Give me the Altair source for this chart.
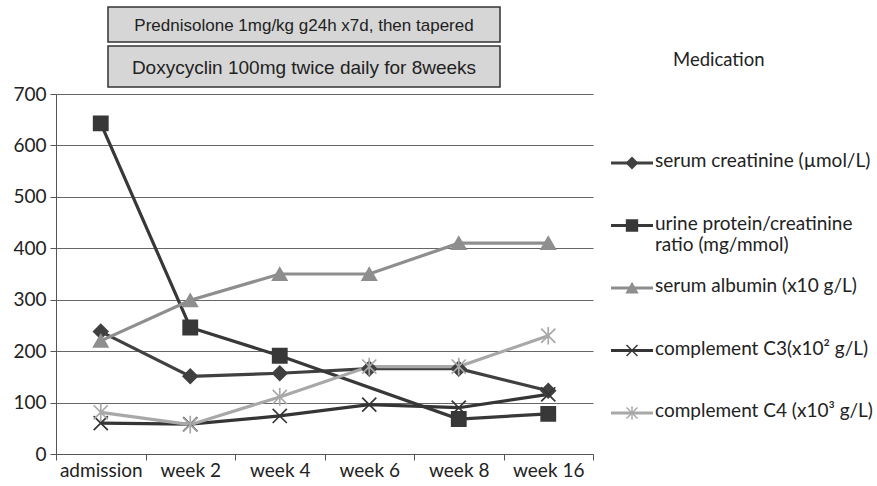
import altair as alt
import pandas as pd

categories = ["admission", "week 2", "week 4", "week 6", "week 8", "week 16"]
series_names = [
    "serum creatinine (µmol/L)",
    "urine protein/creatinine ratio (mg/mmol)",
    "serum albumin (x10 g/L)",
    "complement C3(x10² g/L)",
    "complement C4 (x10³ g/L)",
]
legend_labels = [
    "serum creatinine (µmol/L)",
    "urine protein/creatinine\nratio (mg/mmol)",
    "serum albumin (x10 g/L)",
    "complement C3(x10² g/L)",
    "complement C4 (x10³ g/L)",
]
creatinine = [238, 151, 157, 166, 166, 123]
upcr = [643, 246, 191, None, 68, 78]
albumin = [220, 299, 350, 350, 410, 410]
c3 = [60, 58, 74, 96, 90, 116]
c4 = [81, 57, 111, 170, 170, 230]
box_texts = ["Prednisolone 1mg/kg g24h x7d, then tapered",
             "Doxycyclin 100mg twice daily for 8weeks"]
side_title = "Medication"

colors = ["#404040", "#383838", "#8e8e8e", "#353535", "#a8a8a8"]
X_PATH = "M-1,-1L1,1M-1,1L1,-1"
AST_PATH = "M-1,-1L1,1M-1,1L1,-1M0,-1.25L0,1.25"
shapes = ["diamond", "square", "triangle-up", X_PATH, AST_PATH]

rows = []
for name, vals in zip(series_names, [creatinine, upcr, albumin, c3, c4]):
    for cat, v in zip(categories, vals):
        rows.append({"series": name, "cat": cat, "value": v})
df = pd.DataFrame(rows).dropna()

leg = pd.DataFrame({"series": series_names, "label": legend_labels,
                    "idx": list(range(len(series_names)))})

FONT = "Lato"
color_scale = alt.Scale(domain=series_names, range=colors)
shape_scale = alt.Scale(domain=series_names, range=shapes)
y_scale = alt.Scale(domain=[0, 700])
x_enc = alt.X("cat:N", sort=categories, title=None,
              scale=alt.Scale(paddingInner=0, paddingOuter=0),
              axis=alt.Axis(labelAngle=0, tickBand="extent", tickSize=6,
                            labelFontSize=19, labelFont=FONT, labelColor="#222",
                            domainColor="#555", tickColor="#555", labelPadding=1))

lines = alt.Chart(df).mark_line(strokeWidth=3.2).encode(
    x=x_enc,
    y=alt.Y("value:Q", scale=y_scale, title=None,
            axis=alt.Axis(values=list(range(0, 701, 100)), grid=True,
                          gridColor="#666", gridWidth=1.2, tickSize=6,
                          labelFontSize=19, labelFont=FONT, labelColor="#222",
                          domainColor="#555", tickColor="#555", labelPadding=4)),
    color=alt.Color("series:N", scale=color_scale, legend=None),
    detail="series:N",
)
points = alt.Chart(df).mark_point(filled=True, size=200, strokeWidth=1.7, opacity=1).encode(
    x=alt.X("cat:N", sort=categories),
    y=alt.Y("value:Q", scale=y_scale, axis=None),
    color=alt.Color("series:N", scale=color_scale, legend=None),
    stroke=alt.Stroke("series:N", scale=color_scale, legend=None),
    shape=alt.Shape("series:N", scale=shape_scale, legend=None),
)

leg_y = alt.Y("idx:Q", scale=alt.Scale(domain=[0, 4], range=[69, 319]), axis=None)
leg_lines = alt.Chart(leg).mark_rule(strokeWidth=3).encode(
    x=alt.value(555), x2=alt.value(597), y=leg_y,
    color=alt.Color("series:N", scale=color_scale, legend=None),
)
leg_pts = alt.Chart(leg).mark_point(filled=True, size=120, strokeWidth=1.4, opacity=1).encode(
    x=alt.value(576), y=leg_y,
    color=alt.Color("series:N", scale=color_scale, legend=None),
    stroke=alt.Stroke("series:N", scale=color_scale, legend=None),
    shape=alt.Shape("series:N", scale=shape_scale, legend=None),
)
leg_text = alt.Chart(leg).mark_text(align="left", baseline="top", dy=-11, fontSize=19,
                                    font=FONT, color="#222", lineBreak="\n",
                                    lineHeight=21).encode(
    x=alt.value(599), y=leg_y, text="label:N",
)

box_layers = []
box_y = [(-87, -52), (-48, -7)]
box_sizes = [17, 19]
for i, (t, (y1, y2)) in enumerate(zip(box_texts, box_y)):
    bdf = pd.DataFrame({"text": [t]})
    box_layers.append(alt.Chart(bdf).mark_rect(fill="#d6d6d6", stroke="#333",
                                               strokeWidth=1.5).encode(
        x=alt.value(52), x2=alt.value(444), y=alt.value(y1), y2=alt.value(y2)))
    box_layers.append(alt.Chart(bdf).mark_text(fontSize=box_sizes[i],
                                               font="Liberation Sans",
                                               color="#222", baseline="middle").encode(
        x=alt.value(248), y=alt.value((y1 + y2) / 2 + 1), text="text:N"))

title_df = pd.DataFrame({"text": [side_title]})
med = alt.Chart(title_df).mark_text(fontSize=18.5, font=FONT, color="#222",
                                    align="left", baseline="middle").encode(
    x=alt.value(617), y=alt.value(-34), text="text:N")

chart = alt.layer(lines, points, leg_lines, leg_pts, leg_text, *box_layers, med).resolve_scale(
    y="independent"
).properties(
    width=537, height=360,
    padding={"left": 56, "top": 94, "right": 284, "bottom": 32},
    autosize=alt.AutoSizeParams(type="none"),
    background="white",
).configure_view(stroke=None)

chart.save("out.html", embed_options={"renderer": "svg", "actions": False})
